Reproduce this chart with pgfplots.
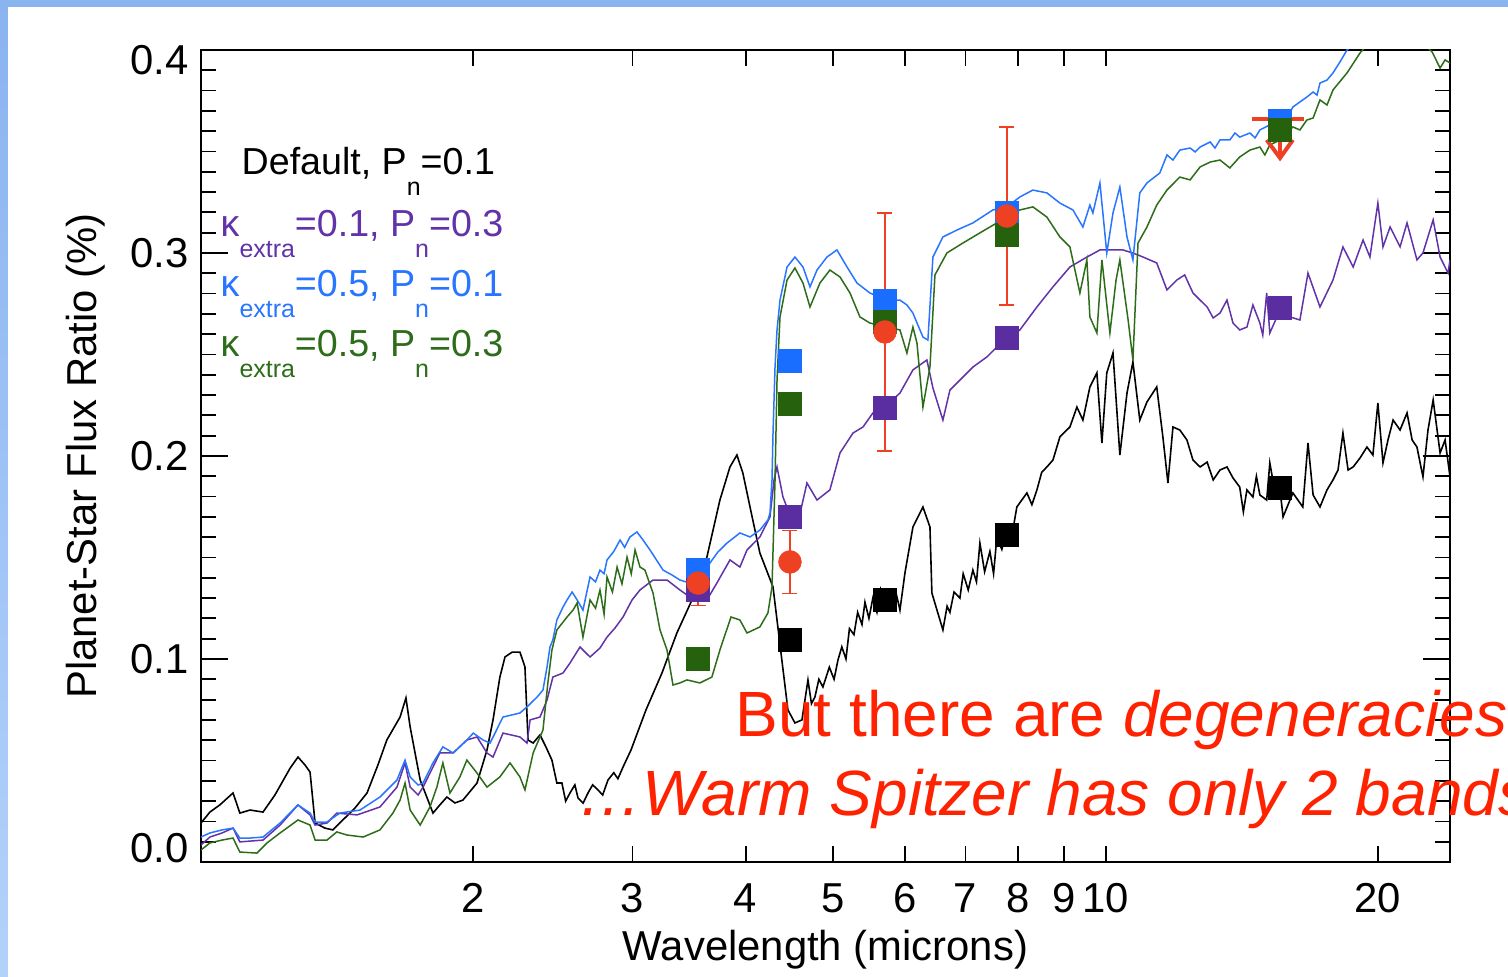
\documentclass[border=0pt]{standalone}
\usepackage{fontspec}
\setmainfont{Liberation Sans}
\usepackage{pgfplots}
\pgfplotsset{compat=1.18}

\definecolor{mblue}{RGB}{40,118,255}
\definecolor{mgreen}{RGB}{45,108,25}
\definecolor{mpurple}{RGB}{98,50,168}
\definecolor{sblue}{RGB}{25,110,255}
\definecolor{sgreen}{RGB}{38,98,14}
\definecolor{spurple}{RGB}{90,45,160}
\definecolor{obsred}{RGB}{238,64,34}
\definecolor{txtred}{RGB}{255,34,0}
\definecolor{frametop}{RGB}{138,180,240}
\definecolor{framebot}{RGB}{178,210,250}

\newcommand{\sub}[1]{\raisebox{-2.1mm}{\fontsize{7.1}{8}\selectfont #1}}

\begin{document}
\begin{tikzpicture}
\useasboundingbox (-20.1mm,-11.4mm) rectangle (130.7mm,86.2mm);
\fill[white] (-20.1mm,-11.4mm) rectangle (130.7mm,86.2mm);
\shade[top color=frametop, bottom color=framebot] (-20.1mm,-11.4mm) rectangle (-19.3mm,86.2mm);
\fill[frametop] (-20.1mm,85.5mm) rectangle (130.7mm,86.2mm);

\begin{axis}[
    at={(0,0)}, anchor=south west,
    scale only axis,
    width=124.9mm, height=81.2mm,
    xmode=log,
    xmin=1, xmax=24.03,
    ymin=0, ymax=0.4,
    axis line style={line width=0.2mm},
    tick align=inside,
    xtick={2,3,4,5,6,7,8,9,10,20},
    xticklabels={2,3,4,5,6,7,8,9,10,20},
    xminorticks=false,
    ytick={0,0.1,0.2,0.3,0.4},
    yticklabels={\raisebox{4pt}[\height][\depth]{0.0},0.1,0.2,0.3,\raisebox{-2.8pt}[\height][\depth]{0.4}},
    minor y tick num=9,
    major tick length=2.7mm,
    minor tick length=1.5mm,
    xtick style={/pgfplots/major tick length=1.6mm},
    every tick/.style={black, line width=0.18mm},
    tick label style={font=\fontsize{11.9}{14}\selectfont},
    xticklabel style={yshift=-0.9mm},
    label style={font=\fontsize{11.9}{14}\selectfont},
    xlabel={Wavelength (microns)},
    ylabel={Planet-Star Flux Ratio (\%)},
    xlabel style={at={(axis description cs:0.5,-0.1207)}, anchor=base},
    ylabel style={at={(axis description cs:-0.0833,0.5)}, anchor=base},
]

% default model
\addplot[black, line width=0.16mm] coordinates {
(1.000,0.0192)(1.023,0.0246)(1.049,0.0281)(1.085,0.0340)(1.104,0.0241)(1.133,0.0256)(1.171,0.0246)(1.207,0.0330)(1.255,0.0463)(1.280,0.0517)(1.303,0.0478)(1.320,0.0443)(1.337,0.0192)(1.371,0.0167)(1.399,0.0158)(1.435,0.0207)(1.480,0.0266)(1.526,0.0340)(1.569,0.0478)(1.605,0.0601)(1.660,0.0714)(1.685,0.0808)(1.703,0.0665)(1.747,0.0404)(1.805,0.0241)(1.837,0.0281)(1.870,0.0320)(1.909,0.0291)(1.948,0.0305)(2.019,0.0389)(2.071,0.0552)(2.103,0.0700)(2.140,0.0911)(2.168,0.1010)(2.208,0.1034)(2.252,0.1034)(2.281,0.0961)(2.299,0.0601)(2.329,0.0586)(2.370,0.0626)(2.406,0.0567)(2.443,0.0502)(2.474,0.0389)(2.506,0.0389)(2.530,0.0300)(2.558,0.0340)(2.590,0.0380)(2.611,0.0315)(2.645,0.0290)(2.678,0.0340)(2.710,0.0380)(2.747,0.0355)(2.780,0.0330)(2.818,0.0404)(2.860,0.0440)(2.890,0.0410)(2.928,0.0468)(2.988,0.0552)(3.104,0.0749)(3.233,0.0931)(3.358,0.1128)(3.490,0.1291)(3.625,0.1502)(3.747,0.1783)(3.844,0.1946)(3.913,0.2005)(3.973,0.1916)(4.045,0.1749)(4.148,0.1522)(4.289,0.1355)(4.377,0.1030)(4.455,0.0749)(4.535,0.0685)(4.617,0.0700)(4.688,0.0897)(4.730,0.0780)(4.772,0.0813)(4.820,0.0900)(4.870,0.0862)(4.950,0.0960)(5.010,0.0900)(5.060,0.0995)(5.110,0.1060)(5.164,0.1000)(5.210,0.1150)(5.270,0.1120)(5.320,0.1230)(5.379,0.1170)(5.420,0.1280)(5.475,0.1200)(5.530,0.1300)(5.588,0.1230)(5.640,0.1340)(5.703,0.1250)(5.760,0.1330)(5.821,0.1270)(5.870,0.1320)(5.925,0.1241)(6.001,0.1424)(6.124,0.1650)(6.282,0.1749)(6.395,0.1650)(6.427,0.1325)(6.610,0.1143)(6.680,0.1260)(6.729,0.1230)(6.800,0.1330)(6.902,0.1300)(6.960,0.1420)(7.050,0.1340)(7.134,0.1438)(7.200,0.1380)(7.262,0.1571)(7.350,0.1430)(7.450,0.1530)(7.520,0.1420)(7.583,0.1601)(7.680,0.1540)(7.779,0.1640)(7.860,0.1580)(7.979,0.1749)(8.185,0.1818)(8.290,0.1760)(8.396,0.1833)(8.500,0.1920)(8.612,0.1946)(8.746,0.1980)(8.902,0.2094)(9.132,0.2143)(9.296,0.2241)(9.439,0.2177)(9.608,0.2340)(9.781,0.2409)(9.907,0.2064)(10.03,0.2409)(10.19,0.2507)(10.37,0.2005)(10.56,0.2310)(10.72,0.2463)(10.91,0.2177)(11.11,0.2266)(11.39,0.2340)(11.57,0.2094)(11.72,0.1867)(11.87,0.2143)(12.08,0.2128)(12.30,0.2079)(12.49,0.1980)(12.72,0.1946)(12.95,0.1970)(13.15,0.1882)(13.38,0.1931)(13.62,0.1946)(13.83,0.1892)(14.07,0.1847)(14.20,0.1725)(14.33,0.1833)(14.55,0.1798)(14.68,0.1900)(14.81,0.1808)(15.07,0.1783)(15.19,0.1966)(15.39,0.1823)(15.59,0.1833)(15.71,0.1700)(16.11,0.1818)(16.52,0.1749)(16.74,0.2064)(16.96,0.1808)(17.26,0.1749)(17.57,0.1833)(17.84,0.1882)(18.07,0.1931)(18.30,0.2113)(18.54,0.1931)(18.78,0.1946)(19.11,0.1990)(19.45,0.2044)(19.75,0.2005)(20.00,0.2261)(20.26,0.1966)(20.52,0.2079)(20.79,0.2177)(21.16,0.2128)(21.54,0.2212)(21.82,0.2079)(22.09,0.2044)(22.43,0.1897)(22.72,0.2128)(23.02,0.2276)(23.43,0.2015)(23.73,0.2079)(24.03,0.1897)
};

% kappa_extra=0.1, Pn=0.3
\addplot[mpurple, line width=0.15mm] coordinates {
(1.000,0.0084)(1.023,0.0123)(1.055,0.0143)(1.085,0.0167)(1.104,0.0099)(1.171,0.0108)(1.223,0.0182)(1.280,0.0281)(1.320,0.0232)(1.337,0.0182)(1.378,0.0192)(1.413,0.0241)(1.488,0.0232)(1.577,0.0271)(1.647,0.0369)(1.681,0.0488)(1.703,0.0369)(1.738,0.0330)(1.760,0.0369)(1.805,0.0468)(1.837,0.0537)(1.900,0.0537)(1.968,0.0601)(2.019,0.0616)(2.071,0.0537)(2.103,0.0517)(2.157,0.0635)(2.252,0.0616)(2.293,0.0586)(2.311,0.0700)(2.370,0.0714)(2.413,0.0798)(2.449,0.0911)(2.513,0.0931)(2.558,0.0980)(2.624,0.1059)(2.692,0.1010)(2.761,0.1054)(2.811,0.1108)(2.869,0.1153)(2.928,0.1207)(2.996,0.1291)(3.057,0.1340)(3.160,0.1389)(3.275,0.1389)(3.384,0.1340)(3.472,0.1305)(3.561,0.1300)(3.625,0.1291)(3.718,0.1374)(3.844,0.1488)(3.943,0.1453)(4.014,0.1537)(4.148,0.1601)(4.256,0.1700)(4.300,0.1882)(4.333,0.1946)(4.399,0.1798)(4.478,0.1709)(4.558,0.1650)(4.676,0.1867)(4.797,0.1783)(4.957,0.1833)(5.086,0.2015)(5.257,0.2113)(5.393,0.2143)(5.531,0.2212)(5.732,0.2251)(5.925,0.2310)(6.124,0.2424)(6.346,0.2473)(6.444,0.2335)(6.610,0.2177)(6.729,0.2325)(6.902,0.2374)(7.134,0.2438)(7.393,0.2488)(7.583,0.2537)(7.779,0.2571)(8.040,0.2621)(8.396,0.2734)(8.746,0.2833)(9.132,0.2931)(9.535,0.2980)(9.857,0.3015)(10.03,0.3015)(10.45,0.3015)(10.72,0.3000)(11.00,0.2980)(11.39,0.2951)(11.69,0.2818)(11.99,0.2867)(12.23,0.2892)(12.49,0.2803)(12.72,0.2768)(12.95,0.2734)(13.15,0.2680)(13.38,0.2704)(13.62,0.2768)(13.83,0.2655)(14.07,0.2621)(14.33,0.2635)(14.55,0.2744)(14.81,0.2655)(14.92,0.2596)(15.07,0.2803)(15.19,0.2606)(15.59,0.2719)(15.99,0.2685)(16.40,0.2670)(16.74,0.2901)(17.26,0.2734)(17.84,0.2867)(18.30,0.3030)(18.78,0.2931)(19.26,0.3064)(19.60,0.2980)(20.00,0.3246)(20.26,0.3030)(20.63,0.3128)(21.16,0.3030)(21.54,0.3148)(22.09,0.2966)(22.43,0.3000)(23.02,0.3163)(23.43,0.2980)(23.91,0.2901)(24.03,0.2966)
};

% kappa_extra=0.5, Pn=0.1
\addplot[mblue, line width=0.15mm] coordinates {
(1.000,0.0123)(1.023,0.0143)(1.055,0.0158)(1.085,0.0167)(1.104,0.0118)(1.133,0.0118)(1.171,0.0123)(1.223,0.0192)(1.280,0.0281)(1.320,0.0241)(1.337,0.0197)(1.378,0.0197)(1.424,0.0241)(1.499,0.0256)(1.577,0.0320)(1.647,0.0404)(1.681,0.0502)(1.703,0.0419)(1.738,0.0379)(1.760,0.0389)(1.805,0.0488)(1.851,0.0567)(1.900,0.0537)(1.968,0.0601)(2.000,0.0635)(2.050,0.0601)(2.087,0.0586)(2.157,0.0714)(2.252,0.0734)(2.293,0.0764)(2.353,0.0813)(2.388,0.0847)(2.413,0.0961)(2.431,0.1059)(2.449,0.1094)(2.474,0.1192)(2.513,0.1256)(2.539,0.1291)(2.572,0.1330)(2.605,0.1291)(2.644,0.1241)(2.692,0.1404)(2.730,0.1380)(2.761,0.1438)(2.790,0.1420)(2.811,0.1488)(2.860,0.1530)(2.906,0.1586)(2.940,0.1550)(2.980,0.1601)(3.034,0.1626)(3.081,0.1586)(3.136,0.1537)(3.242,0.1438)(3.316,0.1414)(3.384,0.1389)(3.472,0.1374)(3.561,0.1389)(3.653,0.1473)(3.728,0.1527)(3.815,0.1571)(3.943,0.1621)(4.045,0.1601)(4.148,0.1635)(4.234,0.1685)(4.256,0.1719)(4.278,0.1882)(4.289,0.2113)(4.311,0.2438)(4.333,0.2621)(4.366,0.2768)(4.445,0.2931)(4.535,0.2980)(4.629,0.2931)(4.712,0.2833)(4.797,0.2916)(4.920,0.2980)(5.047,0.3015)(5.178,0.2931)(5.311,0.2852)(5.489,0.2803)(5.732,0.2768)(5.925,0.2768)(6.031,0.2744)(6.124,0.2704)(6.202,0.2645)(6.282,0.2586)(6.362,0.2571)(6.444,0.2980)(6.610,0.3079)(6.850,0.3113)(7.134,0.3148)(7.507,0.3212)(7.779,0.3227)(8.040,0.3276)(8.311,0.3310)(8.612,0.3296)(8.902,0.3246)(9.202,0.3212)(9.439,0.3128)(9.608,0.3236)(9.682,0.3197)(9.857,0.3345)(10.03,0.3000)(10.19,0.3197)(10.37,0.3325)(10.56,0.3079)(10.72,0.2966)(10.91,0.3296)(11.11,0.3345)(11.48,0.3394)(11.69,0.3483)(11.87,0.3458)(12.08,0.3507)(12.40,0.3517)(12.56,0.3498)(12.72,0.3522)(13.05,0.3547)(13.21,0.3517)(13.38,0.3557)(13.72,0.3557)(13.90,0.3591)(14.07,0.3571)(14.44,0.3591)(14.63,0.3567)(14.81,0.3606)(15.19,0.3631)(15.39,0.3655)(15.59,0.3670)(15.87,0.3665)(16.11,0.3719)(16.40,0.3744)(16.69,0.3768)(16.96,0.3793)(17.13,0.3778)(17.26,0.3837)(17.57,0.3852)(17.84,0.3887)(18.16,0.3941)(18.49,0.4000)(19.11,0.4049)(21.16,0.4099)(24.03,0.4074)
};

% kappa_extra=0.5, Pn=0.3
\addplot[mgreen, line width=0.15mm] coordinates {
(1.000,0.0059)(1.023,0.0094)(1.055,0.0108)(1.085,0.0118)(1.104,0.0049)(1.153,0.0044)(1.183,0.0094)(1.223,0.0143)(1.280,0.0207)(1.320,0.0182)(1.337,0.0108)(1.378,0.0108)(1.413,0.0148)(1.450,0.0133)(1.511,0.0123)(1.577,0.0158)(1.630,0.0241)(1.660,0.0305)(1.681,0.0389)(1.703,0.0256)(1.747,0.0182)(1.791,0.0271)(1.823,0.0369)(1.851,0.0488)(1.885,0.0340)(1.933,0.0419)(1.968,0.0502)(2.019,0.0438)(2.071,0.0369)(2.140,0.0419)(2.196,0.0488)(2.252,0.0419)(2.281,0.0355)(2.329,0.0537)(2.388,0.0650)(2.418,0.0882)(2.443,0.1044)(2.474,0.1143)(2.539,0.1207)(2.578,0.1241)(2.605,0.1276)(2.644,0.1108)(2.692,0.1291)(2.730,0.1250)(2.761,0.1340)(2.790,0.1220)(2.811,0.1404)(2.850,0.1330)(2.884,0.1453)(2.920,0.1370)(2.958,0.1502)(2.990,0.1420)(3.019,0.1537)(3.057,0.1453)(3.096,0.1438)(3.160,0.1325)(3.217,0.1143)(3.275,0.1044)(3.325,0.0872)(3.384,0.0882)(3.445,0.0897)(3.561,0.0882)(3.671,0.0911)(3.747,0.1044)(3.854,0.1207)(3.943,0.1192)(4.014,0.1128)(4.148,0.1158)(4.234,0.1227)(4.278,0.1355)(4.311,0.1882)(4.333,0.2374)(4.366,0.2685)(4.445,0.2867)(4.535,0.2926)(4.629,0.2852)(4.712,0.2734)(4.833,0.2852)(4.957,0.2916)(5.086,0.2882)(5.217,0.2803)(5.351,0.2685)(5.489,0.2655)(5.732,0.2635)(5.925,0.2621)(6.031,0.2507)(6.124,0.2635)(6.187,0.2557)(6.282,0.2241)(6.395,0.2438)(6.477,0.2892)(6.677,0.3000)(6.955,0.3049)(7.262,0.3099)(7.583,0.3148)(7.839,0.3187)(8.040,0.3212)(8.311,0.3227)(8.612,0.3177)(8.902,0.3079)(9.132,0.3030)(9.367,0.2803)(9.535,0.2966)(9.608,0.2685)(9.781,0.2606)(9.907,0.2966)(10.11,0.2606)(10.27,0.2867)(10.37,0.2966)(10.59,0.2670)(10.72,0.2473)(10.86,0.3049)(11.11,0.3128)(11.39,0.3236)(11.69,0.3310)(12.08,0.3374)(12.40,0.3360)(12.72,0.3424)(13.05,0.3448)(13.38,0.3458)(13.72,0.3419)(14.07,0.3473)(14.44,0.3507)(14.81,0.3522)(15.00,0.3483)(15.19,0.3532)(15.59,0.3557)(16.11,0.3621)(16.40,0.3606)(16.69,0.3655)(16.96,0.3665)(17.26,0.3754)(17.57,0.3729)(17.84,0.3803)(18.49,0.3887)(19.11,0.3985)(19.45,0.4025)(21.16,0.4074)(22.55,0.4025)(22.96,0.3990)(23.43,0.3911)(23.73,0.3951)(24.03,0.3936)
};

% band-integrated model points
\addplot[sblue, only marks, mark=square*, mark size=1.15mm, mark options={solid, fill=sblue, draw=sblue, line width=0.1pt}] coordinates {
(3.545,0.1438)(4.478,0.2468)(5.703,0.2764)(7.779,0.3197)(15.59,0.3650)};
\addplot[sgreen, only marks, mark=square*, mark size=1.15mm, mark options={solid, fill=sgreen, draw=sgreen, line width=0.1pt}] coordinates {
(3.545,0.1000)(4.478,0.2256)(5.703,0.2660)(7.779,0.3089)(15.59,0.3606)};
\addplot[spurple, only marks, mark=square*, mark size=1.15mm, mark options={solid, fill=spurple, draw=spurple, line width=0.1pt}] coordinates {
(3.545,0.1340)(4.478,0.1700)(5.703,0.2236)(7.779,0.2581)(15.59,0.2729)};
\addplot[black, only marks, mark=square*, mark size=1.15mm, mark options={solid, fill=black, draw=black, line width=0.1pt}] coordinates {
(4.478,0.1094)(5.703,0.1291)(7.779,0.1611)(15.59,0.1842)};

% observations
\addplot[obsred, only marks, mark=*, mark size=1.15mm, mark options={solid, draw=obsred, fill=obsred, line width=0.1pt},
    error bars/.cd, y dir=both, y explicit,
    error bar style={line width=0.14mm, obsred},
    error mark=-,
    error mark options={rotate=90, line width=0.14mm, mark size=0.75mm, obsred}] coordinates {
(3.545,0.1374) +- (0,0.0111)
(4.478,0.1478) +- (0,0.0155)
(5.703,0.2611) +- (0,0.0586)
(7.779,0.3182) +- (0,0.0439)
};
% upper limit at 16 microns
\addplot[obsred, line width=0.4mm] coordinates {(14.52,0.3660)(16.57,0.3660)};
\addplot[obsred, line width=0.4mm] coordinates {(15.59,0.3660)(15.59,0.3475)};
\addplot[obsred, line width=0.4mm] coordinates {(15.07,0.3557)(15.59,0.3468)(16.11,0.3557)};
\end{axis}

% legend text
\node[anchor=base west, inner sep=0, font=\fontsize{10.7}{12}\selectfont, black] at (4.0mm,68.7mm) {Default, P\sub{n}=0.1};
\node[anchor=base west, inner sep=0, font=\fontsize{10.7}{12}\selectfont, mpurple] at (1.9mm,62.5mm) {κ\sub{extra}=0.1, P\sub{n}=0.3};
\node[anchor=base west, inner sep=0, font=\fontsize{10.7}{12}\selectfont, mblue] at (1.9mm,56.5mm) {κ\sub{extra}=0.5, P\sub{n}=0.1};
\node[anchor=base west, inner sep=0, font=\fontsize{10.7}{12}\selectfont, mgreen] at (1.9mm,50.5mm) {κ\sub{extra}=0.5, P\sub{n}=0.3};

% slide annotation
\node[anchor=base west, inner sep=0, font=\fontsize{18.2}{21}\selectfont, txtred] at (53.4mm,12.5mm) {But there are \textit{degeneracies}};
\node[anchor=base west, inner sep=0, font=\fontsize{18.2}{21}\selectfont, txtred] at (37.7mm,4.7mm) {\textit{…Warm Spitzer has only 2 bands}};
\end{tikzpicture}
\end{document}
